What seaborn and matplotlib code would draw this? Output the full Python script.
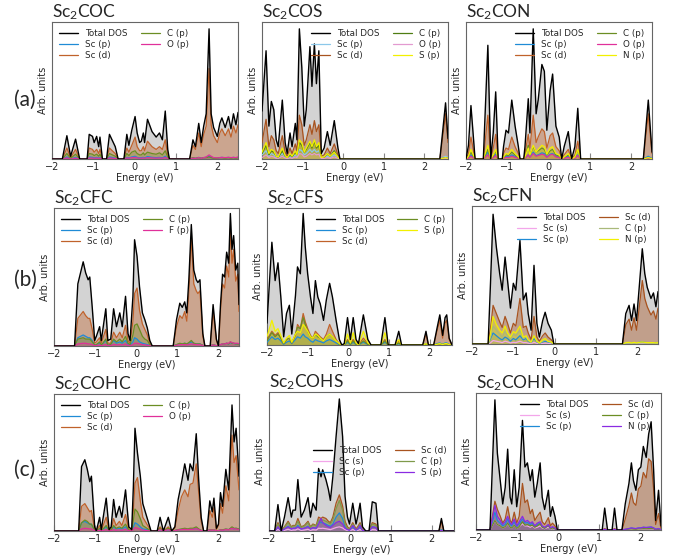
import matplotlib
matplotlib.use("Agg")
import matplotlib.pyplot as plt
import seaborn as sns

# ---------------- data (values as fraction of panel height) ----------------
# (a1) Sc2COC
E_a1 = [-2.0, -1.75, -1.64, -1.55, -1.43, -1.33,
        -1.15, -1.10, -1.02, -0.98, -0.92, -0.87, -0.84, -0.78,
        -0.68, -0.61, -0.47, -0.40,
        -0.26, -0.19, -0.14, -0.07, 0.01, 0.06, 0.12, 0.16, 0.21, 0.24, 0.31, 0.42, 0.52, 0.60, 0.67, 0.74, 0.80, 0.84,
        1.33, 1.41, 1.47, 1.55, 1.61, 1.67, 1.73, 1.80, 1.85, 1.91, 2.00, 2.06, 2.11, 2.19, 2.27, 2.33, 2.39, 2.45, 2.50]
tot_a1 = [0, 0, 0.17, 0.02, 0.145, 0,
          0, 0.18, 0.165, 0.12, 0.165, 0.09, 0.16, 0,
          0, 0.18, 0.09, 0,
          0, 0.18, 0.10, 0.21, 0.31, 0.19, 0.12, 0.13, 0.19, 0.12, 0.29, 0.20, 0.16, 0.19, 0.14, 0.35, 0.07, 0,
          0, 0.14, 0.09, 0.26, 0.12, 0.24, 0.33, 0.95, 0.33, 0.23, 0.165, 0.26, 0.30, 0.23, 0.31, 0.22, 0.33, 0.25, 0.34]
scd_a1 = [0, 0, 0.08, 0.01, 0.07, 0,
          0, 0.08, 0.07, 0.05, 0.07, 0.04, 0.07, 0,
          0, 0.08, 0.04, 0,
          0, 0.08, 0.05, 0.10, 0.16, 0.09, 0.06, 0.06, 0.09, 0.06, 0.13, 0.09, 0.07, 0.09, 0.07, 0.14, 0.03, 0,
          0, 0.10, 0.07, 0.19, 0.09, 0.18, 0.24, 0.66, 0.25, 0.17, 0.12, 0.19, 0.22, 0.17, 0.22, 0.16, 0.24, 0.19, 0.25]
cp_a1 = [0, 0, 0.04, 0.005, 0.035, 0,
         0, 0.04, 0.035, 0.025, 0.035, 0.02, 0.035, 0,
         0, 0.04, 0.02, 0,
         0, 0.04, 0.025, 0.05, 0.06, 0.04, 0.03, 0.03, 0.045, 0.03, 0.05, 0.04, 0.035, 0.045, 0.03, 0.06, 0.015, 0,
         0, 0.01, 0.005, 0.01, 0.005, 0.01, 0.01, 0.015, 0.01, 0.005, 0.005, 0.01, 0.01, 0.005, 0.01, 0.005, 0.01, 0.005, 0.01]
scp_a1 = [0, 0, 0.015, 0, 0.012, 0,
          0, 0.015, 0.012, 0.008, 0.012, 0.006, 0.012, 0,
          0, 0.015, 0.007, 0,
          0, 0.012, 0.008, 0.015, 0.02, 0.012, 0.008, 0.01, 0.012, 0.008, 0.018, 0.012, 0.01, 0.012, 0.008, 0.02, 0.004, 0,
          0, 0.008, 0.005, 0.012, 0.006, 0.01, 0.012, 0.02, 0.012, 0.008, 0.006, 0.01, 0.012, 0.008, 0.012, 0.008, 0.012, 0.008, 0.012]
op_a1 = [0, 0, 0.008, 0, 0.006, 0,
         0, 0.008, 0.007, 0.005, 0.007, 0.004, 0.007, 0,
         0, 0.008, 0.004, 0,
         0, 0.008, 0.005, 0.01, 0.012, 0.008, 0.005, 0.006, 0.008, 0.005, 0.01, 0.008, 0.006, 0.008, 0.005, 0.012, 0.003, 0,
         0, 0.006, 0.004, 0.01, 0.005, 0.01, 0.015, 0.03, 0.02, 0.01, 0.008, 0.01, 0.012, 0.01, 0.012, 0.01, 0.012, 0.01, 0.015]

# (a2) Sc2COS
E_a2 = [-2.0, -1.90, -1.83, -1.77, -1.71, -1.65, -1.60, -1.50, -1.43, -1.38, -1.31, -1.26, -1.18, -1.14,
        -1.08, -1.02, -0.96, -0.91, -0.82, -0.77, -0.71, -0.66, -0.60, -0.54, -0.47, -0.39, -0.32, -0.22, -0.13, -0.08,
        2.38, 2.52, 2.58]
tot_a2 = [0.35, 0.79, 0.24, 0.42, 0.36, 0.14, 0.09, 0.43, 0.12, 0.04, 0.19, 0.09, 0.26, 0.14,
          0.95, 0.67, 0.24, 0.36, 0.82, 0.53, 0.84, 0.55, 0.79, 0.04, 0.08, 0.20, 0.10, 0.28, 0.08, 0,
          0, 0.41, 0.15]
scd_a2 = [0.12, 0.29, 0.09, 0.17, 0.14, 0.06, 0.04, 0.17, 0.05, 0.02, 0.08, 0.04, 0.11, 0.06,
          0.32, 0.25, 0.10, 0.14, 0.25, 0.18, 0.28, 0.20, 0.25, 0.02, 0.03, 0.08, 0.04, 0.11, 0.03, 0,
          0, 0.33, 0.12]
cp_a2 = [0.04, 0.10, 0.03, 0.06, 0.05, 0.02, 0.01, 0.06, 0.02, 0.005, 0.03, 0.015, 0.05, 0.03,
         0.12, 0.10, 0.05, 0.07, 0.12, 0.08, 0.13, 0.08, 0.10, 0.005, 0.01, 0.04, 0.02, 0.06, 0.015, 0,
         0, 0.01, 0.005]
sp_a2 = [0.05, 0.12, 0.04, 0.07, 0.06, 0.02, 0.015, 0.08, 0.025, 0.01, 0.04, 0.02, 0.06, 0.03,
         0.14, 0.12, 0.05, 0.08, 0.13, 0.09, 0.14, 0.09, 0.12, 0.01, 0.015, 0.04, 0.02, 0.05, 0.015, 0,
         0, 0.01, 0.005]
scp_a2 = [0.03, 0.06, 0.02, 0.04, 0.03, 0.01, 0.01, 0.04, 0.015, 0.005, 0.02, 0.01, 0.03, 0.02,
          0.07, 0.06, 0.03, 0.04, 0.07, 0.05, 0.07, 0.05, 0.06, 0.005, 0.01, 0.02, 0.01, 0.03, 0.01, 0,
          0, 0.02, 0.01]
op_a2 = [0.01, 0.03, 0.01, 0.02, 0.015, 0.005, 0.005, 0.02, 0.008, 0.003, 0.01, 0.005, 0.015, 0.01,
         0.04, 0.035, 0.015, 0.02, 0.04, 0.03, 0.04, 0.03, 0.035, 0.003, 0.005, 0.01, 0.005, 0.015, 0.005, 0,
         0, 0.005, 0.002]

# (a3) Sc2CON
E_a3 = [-2.0, -1.94, -1.88, -1.78, -1.58, -1.47, -1.40, -1.34, -1.28, -1.22,
        -1.12, -1.09, -1.03, -0.97, -0.89, -0.81, -0.73, -0.69,
        -0.60, -0.57, -0.49, -0.45, -0.37, -0.30, -0.25, -0.16, -0.10, -0.04, 0.04, 0.10, 0.18, 0.26, 0.32,
        0.38, 0.48, 0.56, 0.64, 0.71, 0.78,
        2.30, 2.42, 2.51]
tot_a3 = [0, 0.10, 0.39, 0, 0, 0.83, 0, 0.19, 0.49, 0,
          0, 0.09, 0.21, 0.19, 0.43, 0.24, 0.09, 0,
          0, 0.09, 0.44, 0.19, 0.95, 0.33, 0.43, 0.69, 0.64, 0.21, 0.50, 0.62, 0.24, 0.16, 0,
          0.09, 0.20, 0, 0.09, 0.37, 0,
          0, 0.43, 0.05]
scd_a3 = [0, 0.04, 0.16, 0, 0, 0.32, 0, 0.08, 0.18, 0,
          0, 0.04, 0.08, 0.07, 0.16, 0.09, 0.04, 0,
          0, 0.04, 0.18, 0.08, 0.32, 0.12, 0.16, 0.22, 0.20, 0.08, 0.17, 0.19, 0.09, 0.06, 0,
          0.03, 0.07, 0, 0.03, 0.13, 0,
          0, 0.33, 0.04]
np_a3 = [0, 0.02, 0.07, 0, 0, 0.10, 0, 0.03, 0.07, 0,
         0, 0.015, 0.04, 0.035, 0.07, 0.04, 0.015, 0,
         0, 0.015, 0.08, 0.03, 0.10, 0.05, 0.07, 0.10, 0.09, 0.035, 0.08, 0.09, 0.04, 0.03, 0,
         0.015, 0.04, 0, 0.015, 0.07, 0,
         0, 0.01, 0.002]
cp_a3 = [0, 0.015, 0.05, 0, 0, 0.07, 0, 0.025, 0.06, 0,
         0, 0.012, 0.03, 0.025, 0.05, 0.03, 0.012, 0,
         0, 0.012, 0.10, 0.03, 0.09, 0.05, 0.06, 0.08, 0.07, 0.03, 0.06, 0.07, 0.03, 0.02, 0,
         0.012, 0.03, 0, 0.012, 0.07, 0,
         0, 0.01, 0.002]
op_a3 = [0, 0.005, 0.02, 0, 0, 0.03, 0, 0.01, 0.025, 0,
         0, 0.005, 0.012, 0.01, 0.02, 0.012, 0.005, 0,
         0, 0.005, 0.03, 0.012, 0.04, 0.02, 0.025, 0.035, 0.03, 0.012, 0.03, 0.035, 0.015, 0.01, 0,
         0.005, 0.012, 0, 0.005, 0.025, 0,
         0, 0.005, 0.001]
scp_a3 = [0, 0.01, 0.03, 0, 0, 0.05, 0, 0.015, 0.035, 0,
          0, 0.008, 0.02, 0.015, 0.03, 0.02, 0.008, 0,
          0, 0.008, 0.03, 0.015, 0.05, 0.025, 0.03, 0.045, 0.04, 0.015, 0.035, 0.04, 0.02, 0.012, 0,
          0.008, 0.02, 0, 0.008, 0.03, 0,
          0, 0.02, 0.003]

# (b1) Sc2CFC
E_b1 = [-2.0, -1.50, -1.42, -1.29, -1.23, -1.17, -1.13, -1.07, -1.01, -0.97,
        -0.89, -0.85, -0.74, -0.69, -0.62, -0.55, -0.48, -0.40, -0.34, -0.26, -0.20, -0.15,
        -0.08, -0.04, 0.02, 0.08, 0.15, 0.21, 0.27, 0.33, 0.39,
        0.90, 0.98, 1.06, 1.12, 1.18, 1.23, 1.28, 1.34, 1.40, 1.46, 1.50, 1.55, 1.62, 1.67,
        1.80, 1.87, 1.95, 2.00, 2.05, 2.10, 2.15, 2.20, 2.25, 2.29, 2.33, 2.37, 2.42, 2.47, 2.50]
tot_b1 = [0, 0, 0.45, 0.61, 0.53, 0.48, 0.50, 0.28, 0.04, 0.07,
          0.14, 0.04, 0.27, 0.04, 0.05, 0.27, 0.14, 0.24, 0.14, 0.36, 0.09, 0.04,
          0.36, 0.77, 0.65, 0.43, 0.24, 0.19, 0.13, 0.04, 0,
          0, 0.19, 0.31, 0.28, 0.32, 0.24, 0.48, 0.88, 0.55, 0.48, 0.46, 0.48, 0.09, 0,
          0, 0.30, 0.05, 0, 0.30, 0.52, 0.50, 0.68, 0.60, 0.96, 0.70, 0.80, 0.55, 0.60, 0.30]
scd_b1 = [0, 0, 0.20, 0.25, 0.22, 0.20, 0.20, 0.12, 0.02, 0.03,
          0.06, 0.02, 0.12, 0.02, 0.02, 0.10, 0.06, 0.10, 0.06, 0.15, 0.04, 0.02,
          0.18, 0.38, 0.42, 0.26, 0.16, 0.12, 0.08, 0.02, 0,
          0, 0.14, 0.22, 0.20, 0.25, 0.18, 0.38, 0.79, 0.45, 0.40, 0.38, 0.40, 0.07, 0,
          0, 0.25, 0.04, 0, 0.25, 0.45, 0.42, 0.58, 0.50, 0.85, 0.60, 0.70, 0.47, 0.52, 0.25]
cp_b1 = [0, 0, 0.05, 0.06, 0.05, 0.05, 0.05, 0.03, 0.005, 0.01,
         0.03, 0.005, 0.05, 0.005, 0.01, 0.05, 0.03, 0.05, 0.03, 0.07, 0.02, 0.01,
         0.08, 0.15, 0.16, 0.12, 0.07, 0.05, 0.04, 0.01, 0,
         0, 0.01, 0.02, 0.015, 0.02, 0.015, 0.025, 0.04, 0.02, 0.015, 0.015, 0.015, 0.005, 0,
         0, 0.01, 0.002, 0, 0.01, 0.015, 0.015, 0.02, 0.015, 0.03, 0.02, 0.02, 0.015, 0.015, 0.01]
scp_b1 = [0, 0, 0.06, 0.08, 0.07, 0.06, 0.06, 0.04, 0.005, 0.01,
          0.02, 0.005, 0.04, 0.005, 0.01, 0.04, 0.02, 0.03, 0.02, 0.04, 0.01, 0.005,
          0.03, 0.06, 0.05, 0.03, 0.02, 0.015, 0.01, 0.005, 0,
          0, 0.01, 0.015, 0.015, 0.02, 0.015, 0.02, 0.03, 0.02, 0.015, 0.015, 0.015, 0.005, 0,
          0, 0.01, 0.002, 0, 0.01, 0.015, 0.015, 0.02, 0.015, 0.025, 0.02, 0.02, 0.015, 0.015, 0.01]
fp_b1 = [0, 0, 0.015, 0.02, 0.02, 0.015, 0.015, 0.01, 0.002, 0.003,
         0.008, 0.002, 0.012, 0.002, 0.003, 0.012, 0.008, 0.01, 0.008, 0.015, 0.005, 0.002,
         0.01, 0.02, 0.02, 0.015, 0.01, 0.008, 0.005, 0.002, 0,
         0, 0.005, 0.01, 0.01, 0.01, 0.008, 0.012, 0.015, 0.012, 0.01, 0.01, 0.01, 0.003, 0,
         0, 0.008, 0.002, 0, 0.01, 0.015, 0.015, 0.02, 0.02, 0.03, 0.025, 0.02, 0.02, 0.02, 0.015]

# (b2) Sc2CFS
E_b2 = [-2.0, -1.88, -1.80, -1.73, -1.66, -1.59, -1.52, -1.45, -1.39, -1.30, -1.25, -1.18, -1.11, -1.06,
        -1.00, -0.93, -0.87, -0.81, -0.75, -0.69, -0.61, -0.54, -0.46, -0.39, -0.30, -0.22, -0.16,
        -0.10, -0.02, 0.05, 0.12, 0.19, 0.25, 0.37, 0.48, 0.56,
        0.80, 0.90, 0.98, 1.15, 1.24, 1.31, 1.83, 1.91, 1.97,
        2.10, 2.18, 2.25, 2.32, 2.38, 2.42, 2.48, 2.55]
tot_b2 = [0.16, 0.75, 0.47, 0.60, 0.35, 0.06, 0.23, 0.29, 0.08, 0.36, 0.57, 0.52, 0.96, 0.72,
          0.52, 0.35, 0.23, 0.47, 0.35, 0.30, 0.18, 0.33, 0.45, 0.35, 0.18, 0.04, 0,
          0.01, 0.20, 0.04, 0.20, 0.04, 0.01, 0.22, 0.04, 0,
          0, 0.20, 0, 0, 0.10, 0, 0, 0.10, 0,
          0, 0.12, 0.22, 0.07, 0.20, 0.22, 0.05, 0]
scd_b2 = [0.04, 0.10, 0.07, 0.09, 0.05, 0.01, 0.04, 0.05, 0.015, 0.07, 0.15, 0.12, 0.23, 0.17,
          0.12, 0.07, 0.05, 0.10, 0.08, 0.06, 0.04, 0.08, 0.15, 0.10, 0.04, 0.01, 0,
          0, 0.04, 0.01, 0.04, 0.01, 0, 0.05, 0.01, 0,
          0, 0.04, 0, 0, 0.03, 0, 0, 0.08, 0,
          0, 0.10, 0.18, 0.05, 0.16, 0.18, 0.04, 0]
sp_b2 = [0.06, 0.18, 0.10, 0.12, 0.07, 0.015, 0.05, 0.07, 0.02, 0.08, 0.10, 0.09, 0.15, 0.13,
         0.10, 0.06, 0.05, 0.08, 0.07, 0.05, 0.03, 0.06, 0.08, 0.06, 0.03, 0.01, 0,
         0, 0.08, 0.015, 0.09, 0.015, 0, 0.10, 0.015, 0,
         0, 0.09, 0, 0, 0.04, 0, 0, 0.01, 0,
         0, 0.005, 0.01, 0.003, 0.01, 0.01, 0.002, 0]
cp_b2 = [0.03, 0.09, 0.06, 0.08, 0.05, 0.01, 0.04, 0.05, 0.015, 0.08, 0.13, 0.12, 0.20, 0.15,
         0.10, 0.06, 0.05, 0.08, 0.06, 0.05, 0.03, 0.06, 0.08, 0.06, 0.03, 0.005, 0,
         0, 0.03, 0.005, 0.03, 0.005, 0, 0.03, 0.005, 0,
         0, 0.03, 0, 0, 0.015, 0, 0, 0.005, 0,
         0, 0.005, 0.01, 0.003, 0.01, 0.01, 0.002, 0]
scp_b2 = [0.02, 0.06, 0.04, 0.05, 0.03, 0.005, 0.02, 0.03, 0.01, 0.04, 0.06, 0.05, 0.08, 0.06,
          0.05, 0.03, 0.02, 0.04, 0.03, 0.025, 0.015, 0.03, 0.04, 0.03, 0.015, 0.003, 0,
          0, 0.02, 0.003, 0.02, 0.003, 0, 0.02, 0.003, 0,
          0, 0.02, 0, 0, 0.01, 0, 0, 0.01, 0,
          0, 0.01, 0.015, 0.005, 0.015, 0.015, 0.003, 0]

# (b3) Sc2CFN
E_b3 = [-2.0, -1.61, -1.55, -1.49, -1.41, -1.33, -1.27, -1.20, -1.14, -1.07, -1.00, -0.94, -0.84,
        -0.76, -0.69, -0.64, -0.57, -0.50, -0.43, -0.37, -0.29, -0.23, -0.16, -0.08, -0.02,
        1.64, 1.72, 1.80, 1.86, 1.92, 1.98, 2.04, 2.12, 2.18, 2.24, 2.33, 2.39, 2.45, 2.50]
tot_b3 = [0, 0, 0.46, 0.94, 0.70, 0.51, 0.39, 0.63, 0.46, 0.26, 0.44, 0.39, 0.75,
          0.32, 0.37, 0.22, 0.10, 0.57, 0.15, 0.05, 0.17, 0.23, 0.15, 0.10, 0,
          0, 0.22, 0.28, 0.17, 0.29, 0.17, 0.39, 0.69, 0.51, 0.41, 0.33, 0.37, 0.27, 0.38]
scd_b3 = [0, 0, 0.12, 0.28, 0.22, 0.16, 0.12, 0.20, 0.15, 0.08, 0.15, 0.13, 0.33,
          0.12, 0.13, 0.08, 0.03, 0.20, 0.05, 0.02, 0.06, 0.08, 0.05, 0.03, 0,
          0, 0.14, 0.18, 0.10, 0.19, 0.10, 0.25, 0.46, 0.33, 0.27, 0.21, 0.24, 0.18, 0.26]
np_b3 = [0, 0, 0.08, 0.20, 0.14, 0.10, 0.08, 0.13, 0.08, 0.05, 0.09, 0.08, 0.13,
         0.05, 0.06, 0.03, 0.015, 0.06, 0.02, 0.008, 0.03, 0.04, 0.02, 0.015, 0,
         0, 0.01, 0.012, 0.008, 0.012, 0.008, 0.012, 0.015, 0.012, 0.01, 0.01, 0.01, 0.008, 0.01]
cp_b3 = [0, 0, 0.05, 0.13, 0.10, 0.07, 0.05, 0.09, 0.06, 0.04, 0.07, 0.06, 0.10,
         0.04, 0.05, 0.025, 0.01, 0.06, 0.02, 0.005, 0.02, 0.03, 0.02, 0.01, 0,
         0, 0.005, 0.006, 0.004, 0.006, 0.004, 0.006, 0.008, 0.006, 0.005, 0.005, 0.005, 0.004, 0.005]
scp_b3 = [0, 0, 0.04, 0.08, 0.06, 0.04, 0.03, 0.05, 0.04, 0.02, 0.04, 0.03, 0.06,
          0.03, 0.04, 0.02, 0.01, 0.04, 0.015, 0.005, 0.015, 0.02, 0.015, 0.01, 0,
          0, 0.008, 0.01, 0.006, 0.01, 0.006, 0.012, 0.015, 0.012, 0.01, 0.008, 0.01, 0.008, 0.01]
scs_b3 = [0, 0, 0.01, 0.025, 0.02, 0.015, 0.01, 0.02, 0.015, 0.008, 0.012, 0.01, 0.02,
          0.01, 0.01, 0.006, 0.003, 0.012, 0.005, 0.002, 0.005, 0.006, 0.005, 0.003, 0,
          0, 0.003, 0.004, 0.002, 0.004, 0.002, 0.004, 0.006, 0.004, 0.004, 0.003, 0.004, 0.003, 0.004]

# (c1) Sc2COHC
E_c1 = [-2.0, -1.40, -1.33, -1.25, -1.19, -1.13, -1.09, -1.01, -0.97, -0.89, -0.85, -0.73, -0.66, -0.61,
        -0.55, -0.49, -0.41, -0.35, -0.26, -0.18, -0.11,
        -0.07, -0.03, 0.03, 0.10, 0.16, 0.26, 0.36, 0.51, 0.58, 0.66, 0.78, 0.86, 0.94,
        1.02, 1.10, 1.18, 1.26, 1.31, 1.38, 1.46, 1.52, 1.58, 1.64, 1.72,
        1.79, 1.85, 1.89, 1.95, 2.00, 2.05, 2.10, 2.18, 2.25, 2.33, 2.38, 2.43, 2.50]
tot_c1 = [0, 0, 0.47, 0.52, 0.45, 0.36, 0.40, 0.03, 0, 0.10, 0.01, 0.24, 0.01, 0.03,
          0.23, 0.10, 0.18, 0.10, 0.30, 0.03, 0.01,
          0.32, 0.75, 0.57, 0.40, 0.20, 0.10, 0, 0, 0.10, 0, 0.10, 0, 0.03,
          0.23, 0.35, 0.49, 0.37, 0.49, 0.44, 0.71, 0.37, 0.10, 0, 0,
          0.22, 0.14, 0.24, 0.02, 0.05, 0.28, 0.18, 0.45, 0.30, 0.92, 0.65, 0.75, 0.40]
scd_c1 = [0, 0, 0.18, 0.20, 0.17, 0.14, 0.15, 0.01, 0, 0.04, 0.005, 0.10, 0.005, 0.01,
          0.09, 0.04, 0.07, 0.04, 0.12, 0.01, 0.005,
          0.15, 0.35, 0.39, 0.22, 0.10, 0.05, 0, 0, 0.03, 0, 0.03, 0, 0.02,
          0.15, 0.25, 0.30, 0.25, 0.34, 0.35, 0.49, 0.28, 0.07, 0, 0,
          0.15, 0.10, 0.17, 0.01, 0.04, 0.20, 0.13, 0.33, 0.22, 0.70, 0.50, 0.55, 0.30]
cp_c1 = [0, 0, 0.06, 0.08, 0.07, 0.05, 0.05, 0.005, 0, 0.02, 0.002, 0.04, 0.002, 0.005,
         0.04, 0.02, 0.03, 0.02, 0.05, 0.005, 0.002,
         0.08, 0.16, 0.14, 0.09, 0.04, 0.02, 0, 0, 0.02, 0, 0.02, 0, 0.005,
         0.01, 0.015, 0.02, 0.015, 0.02, 0.02, 0.03, 0.015, 0.005, 0, 0,
         0.01, 0.008, 0.01, 0.002, 0.003, 0.01, 0.008, 0.015, 0.01, 0.03, 0.02, 0.02, 0.015]
scp_c1 = [0, 0, 0.06, 0.07, 0.06, 0.05, 0.05, 0.005, 0, 0.015, 0.002, 0.03, 0.002, 0.005,
          0.03, 0.015, 0.02, 0.015, 0.03, 0.005, 0.002,
          0.03, 0.06, 0.05, 0.03, 0.015, 0.01, 0, 0, 0.01, 0, 0.01, 0, 0.003,
          0.01, 0.012, 0.015, 0.012, 0.015, 0.015, 0.02, 0.012, 0.004, 0, 0,
          0.01, 0.006, 0.01, 0.002, 0.003, 0.01, 0.006, 0.012, 0.01, 0.025, 0.015, 0.02, 0.01]
op_c1 = [0, 0, 0.015, 0.02, 0.018, 0.015, 0.015, 0.002, 0, 0.005, 0.001, 0.01, 0.001, 0.002,
         0.01, 0.005, 0.008, 0.005, 0.012, 0.002, 0.001,
         0.012, 0.025, 0.02, 0.012, 0.006, 0.003, 0, 0, 0.01, 0, 0.01, 0, 0.002,
         0.008, 0.01, 0.012, 0.01, 0.012, 0.012, 0.018, 0.01, 0.003, 0, 0,
         0.008, 0.005, 0.008, 0.001, 0.002, 0.008, 0.005, 0.01, 0.008, 0.02, 0.015, 0.015, 0.01]

# (c2) Sc2COHS
E_c2 = [-2.0, -1.86, -1.78, -1.70, -1.62, -1.53, -1.45, -1.41, -1.35, -1.29, -1.21, -1.13, -1.04, -0.98,
        -0.92, -0.84, -0.78, -0.72, -0.68, -0.60, -0.54, -0.49, -0.43, -0.35, -0.27, -0.19, -0.13, -0.07, -0.02,
        0.06, 0.14, 0.18, 0.24, 0.30, 0.38, 0.46, 0.54, 0.63, 0.69,
        2.18, 2.24, 2.30, 2.55]
tot_c2 = [0, 0, 0.19, 0, 0.10, 0.24, 0.10, 0.15, 0.15, 0.37, 0.10, 0.15, 0.24, 0.10,
          0.20, 0.15, 0.45, 0.39, 0.44, 0.37, 0.30, 0.22, 0.39, 0.68, 0.95, 0.68, 0.25, 0.10, 0.05,
          0.20, 0.05, 0.10, 0.20, 0.03, 0, 0, 0.21, 0.20, 0,
          0, 0.09, 0, 0]
scd_c2 = [0, 0, 0.06, 0, 0.03, 0.07, 0.03, 0.04, 0.04, 0.09, 0.03, 0.04, 0.07, 0.03,
          0.05, 0.04, 0.10, 0.09, 0.10, 0.09, 0.07, 0.06, 0.10, 0.20, 0.26, 0.18, 0.07, 0.03, 0.015,
          0.06, 0.015, 0.03, 0.06, 0.01, 0, 0, 0.06, 0.05, 0,
          0, 0.07, 0, 0]
cp_c2 = [0, 0, 0.05, 0, 0.025, 0.06, 0.025, 0.035, 0.035, 0.07, 0.025, 0.035, 0.06, 0.025,
         0.045, 0.035, 0.08, 0.07, 0.08, 0.07, 0.06, 0.05, 0.08, 0.16, 0.22, 0.15, 0.05, 0.02, 0.01,
         0.05, 0.01, 0.02, 0.05, 0.005, 0, 0, 0.05, 0.04, 0,
         0, 0.005, 0, 0]
scp_c2 = [0, 0, 0.03, 0, 0.015, 0.035, 0.015, 0.02, 0.02, 0.04, 0.015, 0.02, 0.035, 0.015,
          0.025, 0.02, 0.08, 0.06, 0.06, 0.05, 0.04, 0.035, 0.05, 0.10, 0.13, 0.09, 0.03, 0.012, 0.006,
          0.03, 0.006, 0.012, 0.03, 0.003, 0, 0, 0.03, 0.025, 0,
          0, 0.01, 0, 0]
sp_c2 = [0, 0, 0.03, 0, 0.015, 0.03, 0.015, 0.02, 0.02, 0.03, 0.015, 0.02, 0.03, 0.015,
         0.025, 0.02, 0.05, 0.09, 0.06, 0.04, 0.03, 0.025, 0.04, 0.06, 0.07, 0.05, 0.02, 0.01, 0.005,
         0.04, 0.008, 0.015, 0.04, 0.004, 0, 0, 0.03, 0.025, 0,
         0, 0.003, 0, 0]
scs_c2 = [0, 0, 0.01, 0, 0.005, 0.012, 0.005, 0.007, 0.007, 0.015, 0.005, 0.007, 0.012, 0.005,
          0.009, 0.007, 0.02, 0.018, 0.02, 0.016, 0.013, 0.01, 0.016, 0.025, 0.03, 0.022, 0.01, 0.004, 0.002,
          0.01, 0.002, 0.004, 0.01, 0.001, 0, 0, 0.01, 0.008, 0,
          0, 0.003, 0, 0]

# (c3) Sc2COHN
E_c3 = [-2.0, -1.66, -1.59, -1.54, -1.48, -1.41, -1.35, -1.29, -1.23, -1.17, -1.13, -1.07, -1.01, -0.95,
        -0.87, -0.81, -0.75, -0.68, -0.63, -0.57, -0.51, -0.44, -0.39, -0.33, -0.24, -0.19, -0.14, -0.08, -0.02,
        1.07, 1.13, 1.20, 1.31, 1.37, 1.43, 1.55,
        1.63, 1.72, 1.78, 1.83, 1.89, 1.95, 2.01, 2.07, 2.14, 2.20, 2.26, 2.32, 2.37, 2.44, 2.50]
tot_c3 = [0, 0, 0.56, 0.95, 0.56, 0.36, 0.19, 0.31, 0.59, 0.24, 0.19, 0.44, 0.17, 0.31,
          0.80, 0.46, 0.49, 0.36, 0.44, 0.24, 0.34, 0.49, 0.24, 0.15, 0.29, 0.10, 0.17, 0.10, 0,
          0, 0.16, 0, 0, 0.16, 0, 0,
          0.19, 0.34, 0.49, 0.36, 0.29, 0.44, 0.46, 0.61, 0.53, 0.70, 0.79, 0.44, 0.07, 0.29, 0.03]
scd_c3 = [0, 0, 0.12, 0.21, 0.15, 0.10, 0.05, 0.08, 0.17, 0.07, 0.05, 0.13, 0.05, 0.10,
          0.34, 0.20, 0.22, 0.12, 0.15, 0.07, 0.10, 0.13, 0.06, 0.04, 0.09, 0.03, 0.05, 0.03, 0,
          0, 0.01, 0, 0, 0.01, 0, 0,
          0.08, 0.18, 0.27, 0.20, 0.18, 0.30, 0.32, 0.42, 0.38, 0.52, 0.50, 0.30, 0.04, 0.12, 0.01]
np_c3 = [0, 0, 0.10, 0.18, 0.10, 0.07, 0.04, 0.06, 0.10, 0.05, 0.04, 0.08, 0.03, 0.06,
         0.10, 0.06, 0.07, 0.05, 0.06, 0.03, 0.05, 0.06, 0.03, 0.02, 0.04, 0.015, 0.025, 0.015, 0,
         0, 0.005, 0, 0, 0.005, 0, 0,
         0.005, 0.01, 0.015, 0.012, 0.01, 0.015, 0.015, 0.02, 0.018, 0.02, 0.022, 0.015, 0.005, 0.01, 0.002]
scp_c3 = [0, 0, 0.07, 0.13, 0.07, 0.05, 0.03, 0.04, 0.08, 0.04, 0.03, 0.06, 0.025, 0.045,
          0.08, 0.05, 0.055, 0.04, 0.05, 0.025, 0.04, 0.05, 0.025, 0.015, 0.035, 0.01, 0.02, 0.01, 0,
          0, 0.005, 0, 0, 0.005, 0, 0,
          0.005, 0.01, 0.015, 0.012, 0.01, 0.015, 0.015, 0.02, 0.018, 0.02, 0.022, 0.015, 0.005, 0.01, 0.002]
scs_c3 = [0, 0, 0.04, 0.07, 0.04, 0.03, 0.015, 0.025, 0.045, 0.02, 0.015, 0.035, 0.012, 0.025,
          0.045, 0.03, 0.03, 0.02, 0.03, 0.015, 0.02, 0.03, 0.015, 0.01, 0.02, 0.006, 0.01, 0.006, 0,
          0, 0.002, 0, 0, 0.002, 0, 0,
          0.002, 0.004, 0.006, 0.005, 0.004, 0.006, 0.006, 0.008, 0.007, 0.008, 0.009, 0.006, 0.002, 0.004, 0.001]
cp_c3 = [0, 0, 0.04, 0.07, 0.04, 0.03, 0.015, 0.025, 0.05, 0.02, 0.015, 0.035, 0.012, 0.025,
         0.06, 0.035, 0.04, 0.03, 0.035, 0.02, 0.03, 0.045, 0.02, 0.012, 0.035, 0.008, 0.015, 0.008, 0,
         0, 0.003, 0, 0, 0.003, 0, 0,
         0.003, 0.006, 0.008, 0.006, 0.005, 0.008, 0.008, 0.01, 0.009, 0.01, 0.012, 0.008, 0.003, 0.005, 0.001]

titles = ["Sc$_2$COC", "Sc$_2$COS", "Sc$_2$CON",
          "Sc$_2$CFC", "Sc$_2$CFS", "Sc$_2$CFN",
          "Sc$_2$COHC", "Sc$_2$COHS", "Sc$_2$COHN"]
row_labels = ["(a)", "(b)", "(c)"]
xticks = [-2, -1, 0, 1, 2]

# ---------------- styling ----------------
sns.set_style("ticks")
plt.rcParams['font.family'] = ['DejaVu Sans']
plt.rcParams['mathtext.fontset'] = 'custom'
plt.rcParams['mathtext.rm'] = 'Lato'
plt.rcParams['mathtext.it'] = 'Lato'

BLACK = 'black'
GRAY = '#d3d3d3'
SCD = '#c0622b'
SCD2 = '#a8531f'
BLUE = '#1f8bd6'
GREEN = '#6b8e23'
MAG = '#e0309a'
YEL = '#f2f000'
PURP = '#8a2be2'
PINK = '#f3a6ea'

panels = [
    ((52, 22, 238, 159), E_a1, 2.5,
     [("Sc (p)", scp_a1, BLUE), ("Sc (d)", scd_a1, SCD), ("C (p)", cp_a1, GREEN), ("O (p)", op_a1, MAG)],
     tot_a1, 'upper left'),
    ((262, 22, 448, 159), E_a2, 2.58,
     [("Sc (p)", scp_a2, '#8cc8ea'), ("Sc (d)", scd_a2, SCD2), ("C (p)", cp_a2, '#4f7d12'),
      ("O (p)", op_a2, '#e39ad0'), ("S (p)", sp_a2, YEL)],
     tot_a2, 'upper right'),
    ((466, 22, 652, 159), E_a3, 2.51,
     [("Sc (p)", scp_a3, BLUE), ("Sc (d)", scd_a3, SCD), ("C (p)", cp_a3, GREEN),
      ("O (p)", op_a3, MAG), ("N (p)", np_a3, YEL)],
     tot_a3, 'upper right'),
    ((54, 208, 239, 346), E_b1, 2.5,
     [("Sc (p)", scp_b1, BLUE), ("Sc (d)", scd_b1, SCD), ("C (p)", cp_b1, GREEN), ("F (p)", fp_b1, MAG)],
     tot_b1, 'upper left'),
    ((267, 208, 452, 345), E_b2, 2.55,
     [("Sc (p)", scp_b2, BLUE), ("Sc (d)", scd_b2, SCD), ("C (p)", cp_b2, GREEN), ("S (p)", sp_b2, YEL)],
     tot_b2, 'upper right'),
    ((472, 206, 658, 344), E_b3, 2.5,
     [("Sc (s)", scs_b3, PINK), ("Sc (p)", scp_b3, BLUE), ("Sc (d)", scd_b3, SCD2),
      ("C (p)", cp_b3, '#a9b97a'), ("N (p)", np_b3, YEL)],
     tot_b3, 'upper right'),
    ((54, 394, 239, 531), E_c1, 2.5,
     [("Sc (p)", scp_c1, BLUE), ("Sc (d)", scd_c1, SCD), ("C (p)", cp_c1, GREEN), ("O (p)", op_c1, MAG)],
     tot_c1, 'upper left'),
    ((269, 392, 454, 531), E_c2, 2.55,
     [("Sc (s)", scs_c2, PINK), ("Sc (p)", scp_c2, BLUE), ("Sc (d)", scd_c2, SCD2),
      ("C (p)", cp_c2, '#7f9a4a'), ("S (p)", sp_c2, PURP)],
     tot_c2, 'center right'),
    ((476, 393, 661, 530), E_c3, 2.5,
     [("Sc (s)", scs_c3, PINK), ("Sc (p)", scp_c3, BLUE), ("Sc (d)", scd_c3, SCD2),
      ("C (p)", cp_c3, GREEN), ("N (p)", np_c3, PURP)],
     tot_c3, 'upper right'),
]

W, H = 675, 558
fig = plt.figure(figsize=(W / 100, H / 100), dpi=100)

for i, (box, E, xmax, series, tot, loc) in enumerate(panels):
    x0, y0, x1, y1 = box
    ax = fig.add_axes([x0 / W, 1 - y1 / H, (x1 - x0) / W, (y1 - y0) / H])
    ax.fill_between(E, 0, tot, color=GRAY, lw=0, zorder=1)
    handles = []
    sns.lineplot(x=E, y=tot, ax=ax, color=BLACK, linewidth=1.0, zorder=5,
                 label="Total DOS", legend=False)
    handles.append(ax.lines[-1])
    for name, vals, col in series:
        a = 0.4 if name == "Sc (d)" else 0.3
        ax.fill_between(E, 0, vals, color=col, alpha=a, lw=0, zorder=2)
        sns.lineplot(x=E, y=vals, ax=ax, color=col, linewidth=0.9, zorder=4,
                     label=name, legend=False)
        handles.append(ax.lines[-1])
    ax.set_xlim(-2, xmax)
    ax.set_ylim(0, 1.0)
    ax.set_xticks(xticks)
    ax.set_xticklabels([f"\u2212{abs(t)}" if t < 0 else str(t) for t in xticks])
    ax.set_yticks([])
    ax.tick_params(axis='x', direction='in', length=4, width=0.8, color='#888888',
                   labelsize=7, pad=2)
    for sp in ax.spines.values():
        sp.set_color('#666666')
        sp.set_linewidth(0.8)
    ax.set_xlabel("Energy (eV)", fontsize=7, labelpad=1)
    ax.set_ylabel("Arb. units", fontsize=7, labelpad=3)
    ax.set_title(titles[i], loc='left', fontsize=12.5, pad=1, family='Lato')
    lg = ax.legend(handles=handles, loc=loc, ncol=2, frameon=False, fontsize=6.3,
                   handlelength=2.2, labelspacing=0.25, columnspacing=1.5,
                   handletextpad=0.8, borderaxespad=0.4)
    lg.set_zorder(10)

for lab, yc in zip(row_labels, [100, 280, 470]):
    fig.text(25 / W, 1 - yc / H, lab, fontsize=15, family='Lato', ha='center', va='center')

fig.savefig("out.png", dpi=100)
